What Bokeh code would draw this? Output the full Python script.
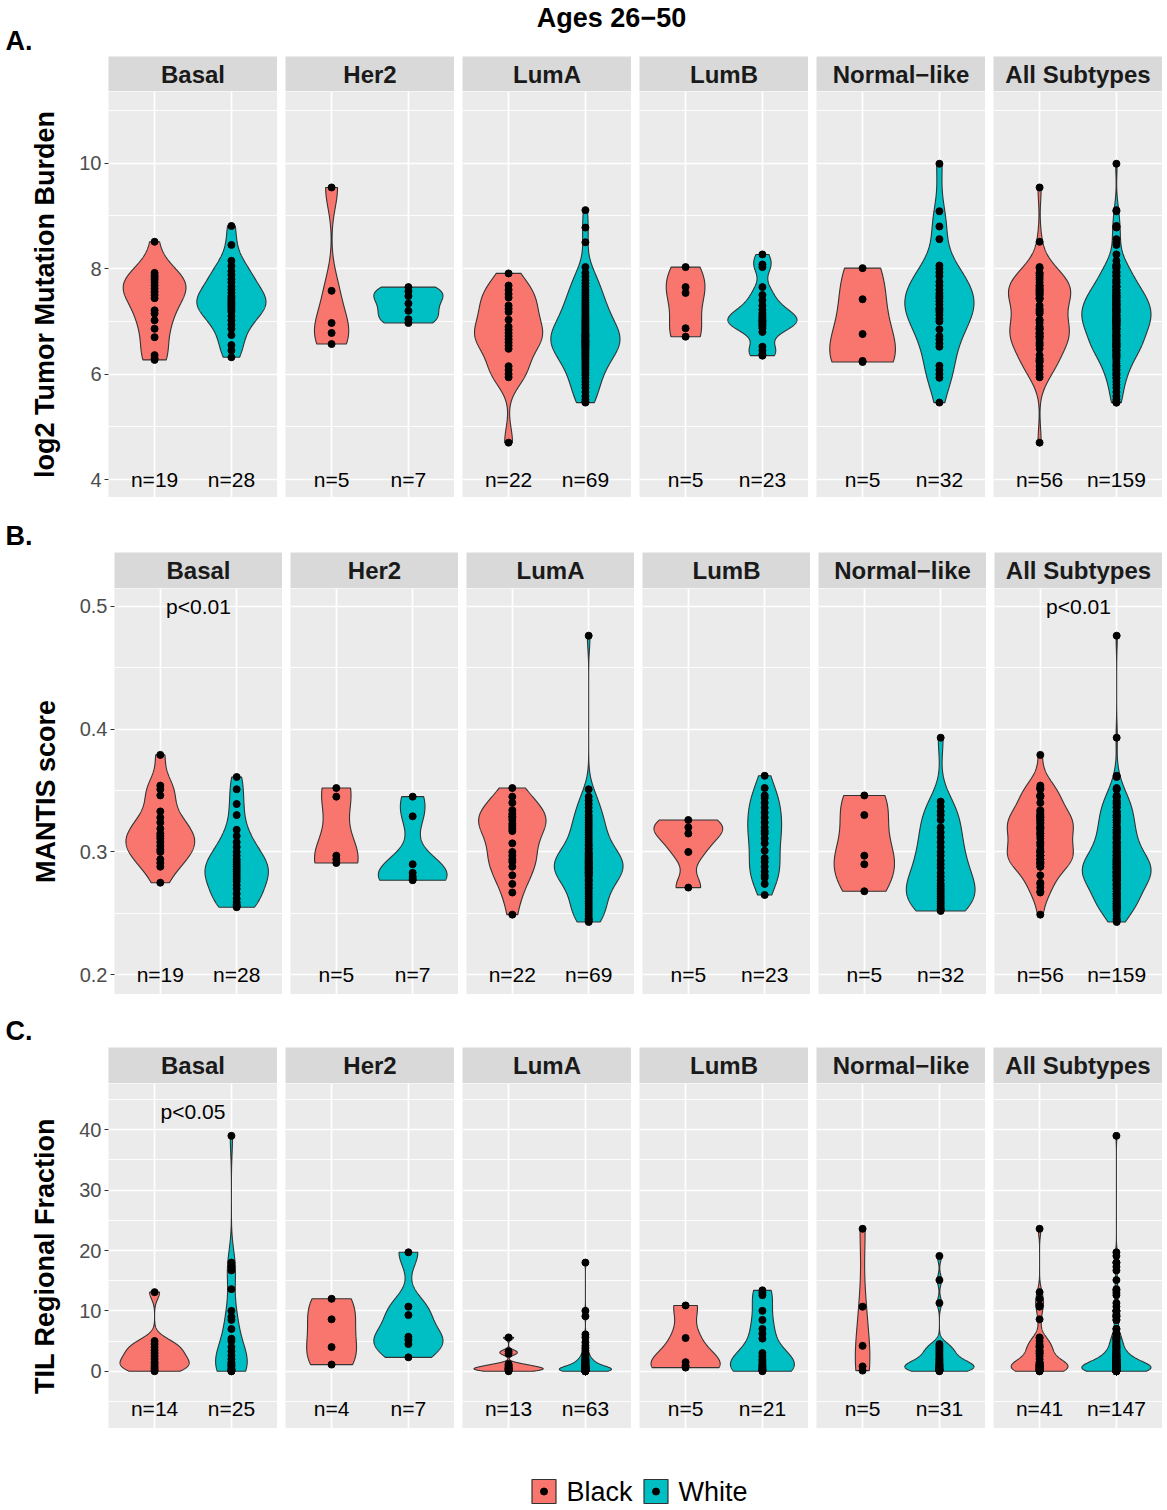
import numpy as np
from bokeh.plotting import figure
from bokeh.layouts import column, row
from bokeh.models import Range1d, FixedTicker, Grid, LinearAxis
from bokeh.core.properties import value
from bokeh.embed import file_html
from bokeh.resources import INLINE

FONT = "Liberation Sans"
subtypes = ["Basal", "Her2", "LumA", "LumB", "Normal\u2212like", "All Subtypes"]
races = ["Black", "White"]
race_colors = ["#F8766D", "#00BFC4"]

# ---------------- A. log2 Tumor Mutation Burden ----------------
tmb_basal_black = [8.51, 7.92, 7.87, 7.83, 7.79, 7.74, 7.68, 7.62, 7.56, 7.50, 7.44, 7.21, 7.15, 7.02, 6.86, 6.70, 6.36, 6.30, 6.27]
tmb_basal_white = [8.81, 8.45, 8.15, 8.05, 7.95, 7.88, 7.80, 7.74, 7.66, 7.60, 7.54, 7.48, 7.44, 7.40, 7.36, 7.33, 7.30, 7.26, 7.22, 7.18,
                   7.10, 7.02, 6.94, 6.86, 6.74, 6.55, 6.45, 6.32]
tmb_her2_black = [9.54, 7.58, 6.97, 6.78, 6.57]
tmb_her2_white = [7.65, 7.57, 7.48, 7.34, 7.20, 7.04, 6.97]
tmb_luma_black = [7.91, 7.68, 7.60, 7.52, 7.45, 7.30, 7.24, 7.18, 7.03, 6.90, 6.84, 6.78, 6.72, 6.66, 6.60, 6.54, 6.48, 6.15, 6.08, 6.00, 5.94, 4.70]
tmb_luma_white = [9.11, 8.78, 8.50, 8.03, 7.92, 7.85, 7.78, 7.72, 7.66, 7.60, 7.55, 7.50, 7.45, 7.40, 7.36, 7.32, 7.28, 7.24, 7.20, 7.16,
                  7.12, 7.08, 7.05, 7.02, 6.99, 6.96, 6.93, 6.90, 6.87, 6.84, 6.81, 6.78, 6.75, 6.74, 6.72, 6.70, 6.68, 6.65, 6.63, 6.62,
                  6.60, 6.58, 6.56, 6.55, 6.52, 6.50, 6.47, 6.44, 6.41, 6.38, 6.35, 6.32, 6.28, 6.24, 6.20, 6.16, 6.12, 6.08, 6.03, 5.98,
                  5.92, 5.86, 5.80, 5.74, 5.66, 5.58, 5.52, 5.48, 5.46]
tmb_lumb_black = [8.03, 7.65, 7.54, 6.87, 6.71]
tmb_lumb_white = [8.27, 8.08, 8.03, 7.65, 7.50, 7.40, 7.30, 7.22, 7.16, 7.12, 7.08, 7.05, 7.02, 7.00, 6.97, 6.94, 6.91, 6.87, 6.80,
                  6.52, 6.45, 6.38, 6.35]
tmb_norm_black = [8.01, 7.42, 6.76, 6.25, 6.23]
tmb_norm_white = [9.99, 9.09, 8.80, 8.56, 8.06, 8.00, 7.93, 7.86, 7.75, 7.68, 7.60, 7.53, 7.48, 7.44, 7.38, 7.32, 7.25, 7.22, 7.18, 7.12,
                  7.05, 7.00, 6.85, 6.72, 6.66, 6.58, 6.52, 6.16, 6.08, 6.00, 5.93, 5.46]

# ---------------- B. MANTIS score ----------------
mantis_basal_black = [0.379, 0.354, 0.351, 0.346, 0.333, 0.328, 0.324, 0.319, 0.315, 0.313, 0.311, 0.308, 0.305, 0.302, 0.300, 0.294, 0.291, 0.288, 0.275]
mantis_basal_white = [0.361, 0.351, 0.339, 0.330, 0.318, 0.313, 0.308, 0.304, 0.300, 0.297, 0.294, 0.292, 0.290, 0.288, 0.286, 0.284,
                      0.282, 0.280, 0.278, 0.276, 0.273, 0.270, 0.266, 0.262, 0.259, 0.257, 0.256, 0.255]
mantis_her2_black = [0.352, 0.345, 0.297, 0.294, 0.291]
mantis_her2_white = [0.345, 0.329, 0.290, 0.283, 0.280, 0.278, 0.277]
mantis_luma_black = [0.352, 0.345, 0.340, 0.334, 0.331, 0.329, 0.328, 0.326, 0.323, 0.321, 0.319, 0.317, 0.307, 0.300, 0.297, 0.294, 0.292,
                     0.288, 0.281, 0.274, 0.267, 0.249]
mantis_luma_white = [0.476, 0.351, 0.345, 0.342, 0.339, 0.336, 0.333, 0.330, 0.328, 0.326, 0.324, 0.322, 0.320, 0.318, 0.316, 0.314, 0.312,
                     0.310, 0.308, 0.306, 0.305, 0.303, 0.302, 0.300, 0.299, 0.298, 0.297, 0.296, 0.295, 0.294, 0.293, 0.292, 0.291, 0.291,
                     0.290, 0.289, 0.288, 0.287, 0.287, 0.286, 0.285, 0.284, 0.283, 0.283, 0.282, 0.281, 0.280, 0.278, 0.277, 0.276, 0.274,
                     0.273, 0.271, 0.270, 0.268, 0.266, 0.264, 0.262, 0.260, 0.258, 0.256, 0.254, 0.252, 0.250, 0.248, 0.246, 0.245, 0.244, 0.243]
mantis_lumb_black = [0.326, 0.320, 0.315, 0.300, 0.271]
mantis_lumb_white = [0.362, 0.352, 0.346, 0.344, 0.340, 0.336, 0.332, 0.328, 0.324, 0.320, 0.317, 0.315, 0.311, 0.307, 0.301, 0.295, 0.292,
                     0.288, 0.284, 0.281, 0.279, 0.274, 0.265]
mantis_norm_black = [0.346, 0.330, 0.297, 0.290, 0.268]
mantis_norm_white = [0.393, 0.341, 0.337, 0.333, 0.330, 0.326, 0.320, 0.316, 0.312, 0.308, 0.304, 0.300, 0.297, 0.293, 0.290, 0.287, 0.283,
                     0.280, 0.277, 0.274, 0.272, 0.270, 0.268, 0.266, 0.264, 0.262, 0.260, 0.258, 0.256, 0.254, 0.253, 0.252]

# ---------------- C. TIL Regional Fraction ----------------
til_basal_black = [13.1, 5.0, 4.5, 4.0, 3.5, 3.0, 2.5, 2.0, 1.5, 1.2, 0.8, 0.5, 0.2, 0.0]
til_basal_white = [39.0, 18.0, 17.3, 16.7, 13.6, 10.0, 9.0, 8.5, 7.0, 5.4, 5.0, 4.0, 3.3, 2.6, 2.0, 1.5, 1.2, 1.0, 0.8, 0.5, 0.3, 0.2, 0.1, 0.0, 0.0]
til_her2_black = [12.0, 8.6, 4.0, 1.1]
til_her2_white = [19.7, 10.7, 9.3, 5.7, 5.2, 4.5, 2.3]
til_luma_black = [5.6, 3.3, 2.9, 1.2, 1.0, 0.8, 0.6, 0.5, 0.4, 0.3, 0.2, 0.1, 0.0]
til_luma_white = [18.0, 10.0, 9.1, 6.1, 5.6, 4.8, 4.2, 3.8, 3.4, 3.0, 2.8, 2.6, 2.4, 2.2, 2.0, 1.9, 1.8, 1.7, 1.6, 1.5, 1.4, 1.3, 1.2, 1.1,
                  1.0, 1.0, 0.9, 0.9, 0.8, 0.8, 0.7, 0.7, 0.6, 0.6, 0.5, 0.5, 0.5, 0.4, 0.4, 0.4, 0.3, 0.3, 0.3, 0.3, 0.2, 0.2, 0.2, 0.2,
                  0.1, 0.1, 0.1, 0.1, 0.1, 0.0, 0.0, 0.0, 0.0, 0.0, 0.0, 0.0, 0.0, 0.0, 0.0]
til_lumb_black = [10.9, 5.5, 1.5, 0.9, 0.6]
til_lumb_white = [13.4, 13.0, 12.6, 10.0, 8.5, 7.0, 6.2, 5.4, 3.0, 2.5, 2.0, 1.7, 1.3, 1.0, 0.8, 0.6, 0.4, 0.3, 0.2, 0.1, 0.0]
til_norm_black = [23.6, 10.7, 4.2, 0.8, 0.1]
til_norm_white = [19.1, 15.1, 11.3, 4.5, 4.2, 3.9, 3.6, 3.3, 3.0, 2.7, 2.4, 2.1, 1.9, 1.7, 1.5, 1.3, 1.1, 1.0, 0.9, 0.8, 0.7, 0.6, 0.5,
                  0.4, 0.3, 0.3, 0.2, 0.2, 0.1, 0.1, 0.0]

# p-value annotations (facet -> text)
mantis_pvals = {"Basal": "p<0.01", "All Subtypes": "p<0.01"}
til_pvals = {"Basal": "p<0.05"}
tmb_pvals = {}


def with_all(groups):
    blacks = [g[0] for g in groups]
    whites = [g[1] for g in groups]
    return groups + [(sum(blacks, []), sum(whites, []))]


tmb_groups = with_all([(tmb_basal_black, tmb_basal_white), (tmb_her2_black, tmb_her2_white),
                       (tmb_luma_black, tmb_luma_white), (tmb_lumb_black, tmb_lumb_white),
                       (tmb_norm_black, tmb_norm_white)])
mantis_groups = with_all([(mantis_basal_black, mantis_basal_white), (mantis_her2_black, mantis_her2_white),
                          (mantis_luma_black, mantis_luma_white), (mantis_lumb_black, mantis_lumb_white),
                          (mantis_norm_black, mantis_norm_white)])
til_groups = with_all([(til_basal_black, til_basal_white), (til_her2_black, til_her2_white),
                       (til_luma_black, til_luma_white), (til_lumb_black, til_lumb_white),
                       (til_norm_black, til_norm_white)])

ROWS = [
    dict(label="log2 Tumor Mutation Burden", yr=(3.66, 11.36), major=[4, 6, 8, 10], minor=[5, 7, 9, 11],
         left=108, pw=169, strip_h=35, panel_h=406, n_y=4.0, p_y=11.0, groups=tmb_groups, pvals=tmb_pvals),
    dict(label="MANTIS score", yr=(0.184, 0.5144), major=[0.2, 0.3, 0.4, 0.5], minor=[0.25, 0.35, 0.45],
         left=114, pw=168, strip_h=36, panel_h=406, n_y=0.2, p_y=0.5, groups=mantis_groups, pvals=mantis_pvals),
    dict(label="TIL Regional Fraction", yr=(-9.49, 47.67), major=[0, 10, 20, 30, 40], minor=[-5, 5, 15, 25, 35, 45],
         left=108, pw=169, strip_h=36, panel_h=345, n_y=-6.2, p_y=43.0, groups=til_groups, pvals=til_pvals),
]

TOTAL_W = 1162


def nrd0(x):
    x = np.asarray(x, float)
    hi = np.std(x, ddof=1)
    q75, q25 = np.percentile(x, [75, 25])
    lo = min(hi, (q75 - q25) / 1.34)
    if not lo:
        lo = hi or abs(x[0]) or 1.0
    return 0.9 * lo * len(x) ** -0.2


def density(x):
    x = np.asarray(x, float)
    bw = nrd0(x)
    grid = np.linspace(x.min(), x.max(), 512)
    d = np.exp(-0.5 * ((grid[:, None] - x[None, :]) / bw) ** 2).sum(1) / (len(x) * bw * np.sqrt(2 * np.pi))
    return grid, d


def base_fig(w, h, xr, yr, left, bg):
    return figure(width=w, height=h, x_range=xr, y_range=yr, x_axis_type=None, y_axis_type=None,
                  toolbar_location=None, output_backend="svg", min_border=0, min_border_left=left,
                  background_fill_color=bg, border_fill_color="white", outline_line_color=None)


def make_column(cfg, idx):
    first = idx == 0
    L = cfg["left"] if first else 8
    W = cfg["pw"]
    name = subtypes[idx]
    black, white = cfg["groups"][idx]

    strip = base_fig(L + W, cfg["strip_h"], Range1d(0.4, 2.6), Range1d(0, 1), L, "#D9D9D9")
    strip.text(x=[1.5], y=[0.5], text=[name], text_font=value(FONT), text_font_style="bold",
               text_font_size="24px", text_color="#1A1A1A", text_align="center", text_baseline="middle")

    p = base_fig(L + W, cfg["panel_h"], Range1d(0.4, 2.6), Range1d(*cfg["yr"]), L, "#EBEBEB")
    p.add_layout(Grid(dimension=1, ticker=FixedTicker(ticks=cfg["major"], minor_ticks=cfg["minor"]),
                      grid_line_color="white", grid_line_width=1.7,
                      minor_grid_line_color="white", minor_grid_line_width=0.9))
    p.add_layout(Grid(dimension=0, ticker=FixedTicker(ticks=[1, 2]), grid_line_color="white", grid_line_width=1.7))

    if first:
        ax = LinearAxis(ticker=FixedTicker(ticks=cfg["major"]), axis_label=cfg["label"],
                        axis_label_text_font=FONT, axis_label_text_font_style="bold",
                        axis_label_text_font_size="27px", axis_label_text_color="black",
                        axis_label_standoff=16,
                        major_label_text_font=FONT, major_label_text_font_size="20px",
                        major_label_text_color="#4D4D4D", major_label_standoff=3,
                        axis_line_color=None, major_tick_line_color="#333333",
                        major_tick_out=4, major_tick_in=0, minor_tick_line_color=None)
        p.add_layout(ax, "left")

    dens = [density(black), density(white)]
    dmax = max(d.max() for _, d in dens)
    for k, (vals, (g, d)) in enumerate(zip((black, white), dens)):
        c = k + 1
        hw = 0.45 * d / dmax
        xs = np.concatenate([c + hw, (c - hw)[::-1]])
        ys = np.concatenate([g, g[::-1]])
        p.patch(xs, ys, fill_color=race_colors[k], line_color="#333333", line_width=1.1)
        p.scatter(np.full(len(vals), c), vals, size=7, color="black")

    p.text(x=[1, 2], y=[cfg["n_y"]] * 2, text=[f"n={len(black)}", f"n={len(white)}"],
           text_font=value(FONT), text_font_size="21px", text_color="black",
           text_align="center", text_baseline="middle")
    if name in cfg["pvals"]:
        p.text(x=[1.5], y=[cfg["p_y"]], text=[cfg["pvals"][name]], text_font=value(FONT),
               text_font_size="21px", text_color="black", text_align="center", text_baseline="middle")
    return column(strip, p, spacing=0)


def blank(h):
    return base_fig(TOTAL_W, h, Range1d(0, TOTAL_W), Range1d(h, 0), 0, "white")


def bold_text(f, x, y, txt, size, align="left"):
    f.text(x=[x], y=[y], text=[txt], text_font=value(FONT), text_font_style="bold",
           text_font_size=size, text_color="black", text_align=align, text_baseline="middle")


header = blank(56)
bold_text(header, 611, 17, "Ages 26\u221250", "27px", "center")
bold_text(header, 5, 40, "A.", "27px")

gap_b = blank(55)
bold_text(gap_b, 5, 38, "B.", "27px")
gap_c = blank(53)
bold_text(gap_c, 5, 36, "C.", "27px")

legend = blank(80)
key_x = [543.5, 655.5]
legend.rect(x=key_x, y=[63, 63], width=24, height=24, fill_color=race_colors, line_color="#333333", line_width=1.2)
legend.scatter(x=key_x, y=[63, 63], size=7, color="black")
legend.text(x=[566, 678], y=[63, 63], text=races, text_font=value(FONT), text_font_size="27px",
            text_color="black", text_align="left", text_baseline="middle")

blocks = [header]
for r, cfg in enumerate(ROWS):
    blocks.append(row([make_column(cfg, i) for i in range(6)], spacing=0))
    if r == 0:
        blocks.append(gap_b)
    elif r == 1:
        blocks.append(gap_c)
blocks.append(legend)

layout = column(blocks, spacing=0)
open("out.html", "w").write(file_html(layout, INLINE))
